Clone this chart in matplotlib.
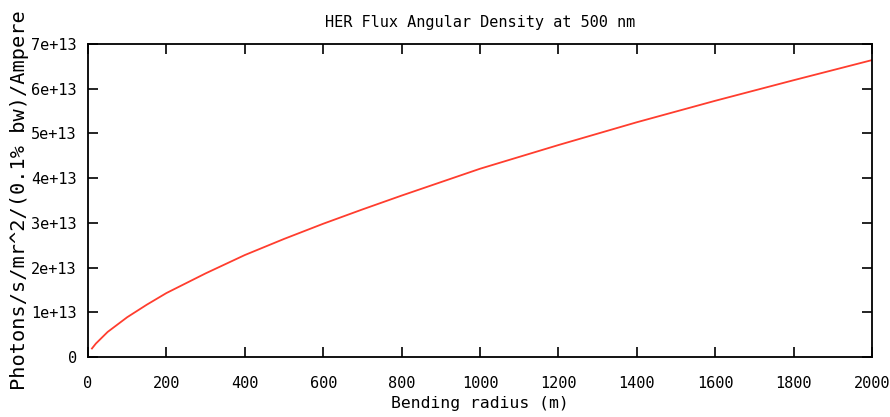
import numpy as np
import matplotlib.pyplot as plt

# bending radius (m) and flux angular density (units of 1e13)
radius = [10, 20, 50, 100, 150, 200, 300, 400, 500, 600, 700, 800, 900,
          1000, 1200, 1400, 1600, 1800, 2000]
flux_e13 = [0.19, 0.30, 0.56, 0.89, 1.17, 1.43, 1.87, 2.28, 2.64, 2.98,
            3.30, 3.61, 3.91, 4.21, 4.74, 5.25, 5.73, 6.19, 6.64]

xticks = list(range(0, 2001, 200))
yticks = [i * 1e13 for i in range(8)]
ylabels = ["0"] + ["%de+13" % i for i in range(1, 8)]

plt.rcParams['font.family'] = ['DejaVu Sans Mono']
plt.rcParams['font.size'] = 11

fig = plt.figure(figsize=(8.9, 4.17), dpi=100)
ax = fig.add_axes([0.0989, 0.1439, 0.8809, 0.7506])

flux = np.array(flux_e13) * 1e13
ax.plot(radius, flux, color='#ff3d2e', lw=1.3)

ax.set_xlim(0, 2000)
ax.set_ylim(0, 7e13)
ax.set_xticks(xticks)
ax.set_yticks(yticks)
ax.set_yticklabels(ylabels)
ax.tick_params(direction='in', length=7, width=1.2, top=True, right=True,
               labelsize=11)
ax.tick_params(axis='x', pad=14)
ax.tick_params(axis='y', pad=8)
for s in ax.spines.values():
    s.set_linewidth(1.3)

ax.set_title("HER Flux Angular Density at 500 nm", fontsize=11, pad=12)
ax.set_xlabel("Bending radius (m)", fontsize=11.8, labelpad=3)
ax.set_ylabel("Photons/s/mr^2/(0.1% bw)/Ampere", fontsize=14.6, labelpad=2)

fig.savefig("out.png", dpi=100)
